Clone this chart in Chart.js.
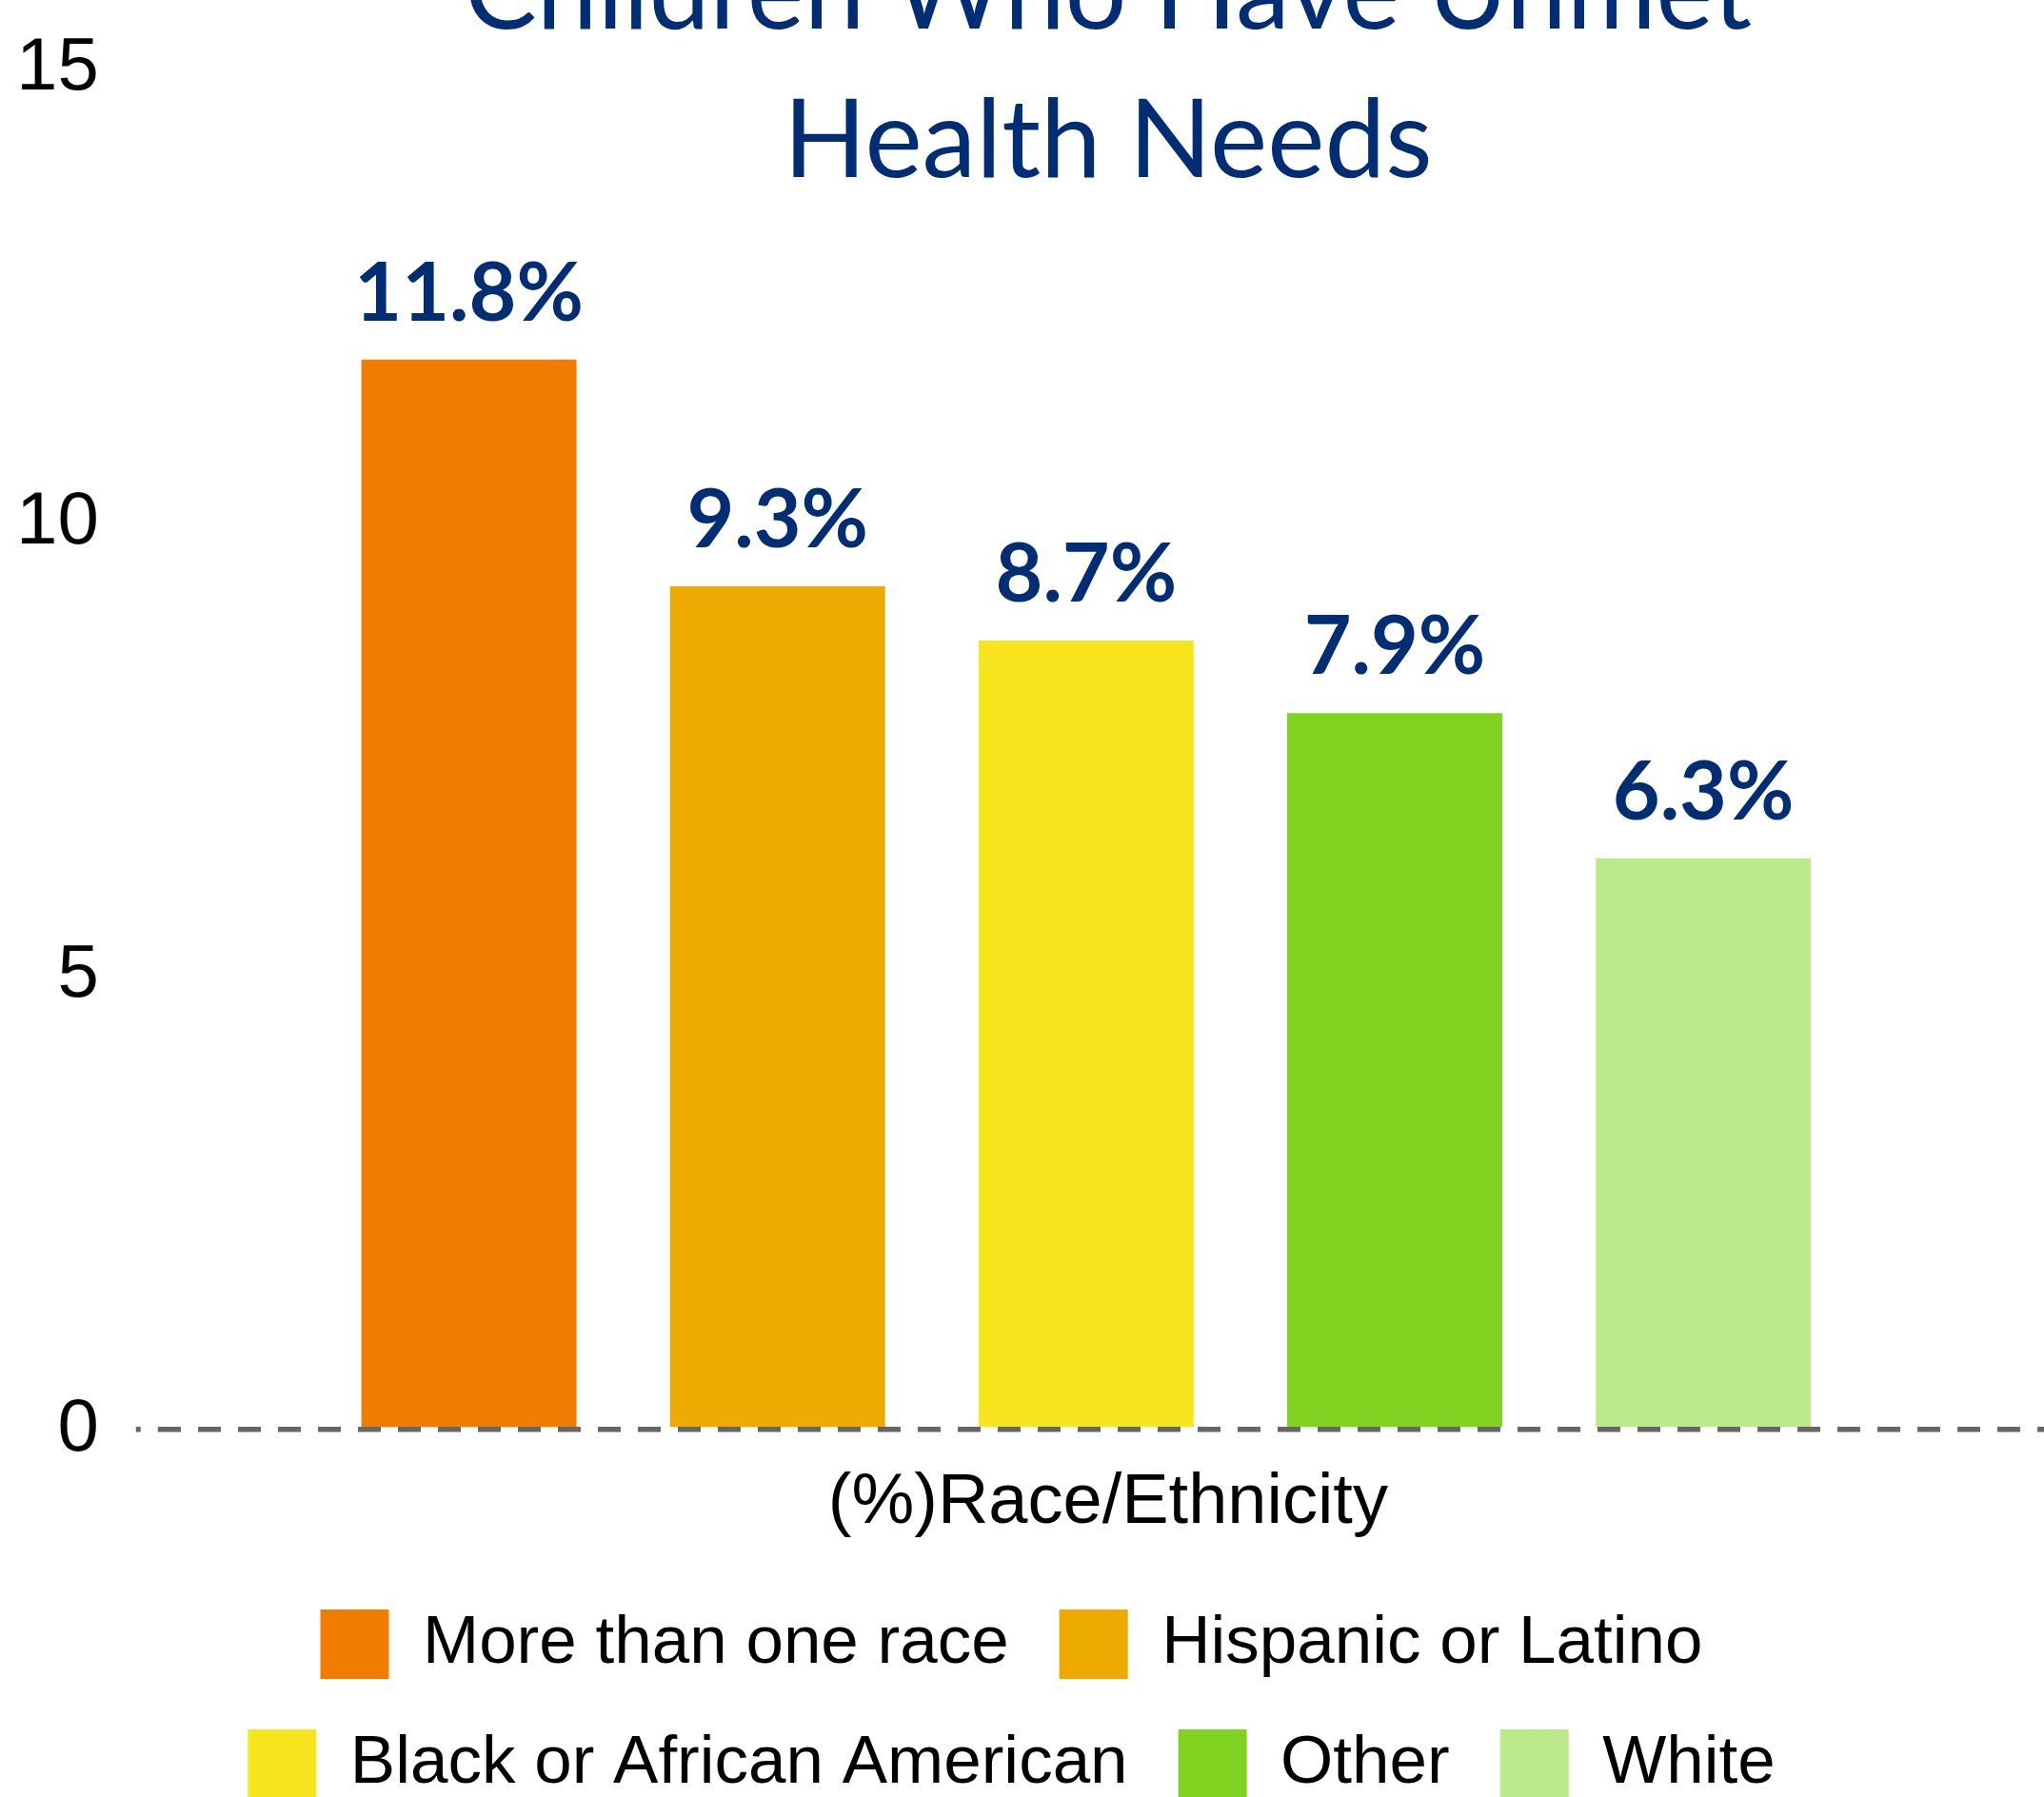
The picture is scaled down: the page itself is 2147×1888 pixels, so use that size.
<!DOCTYPE html>
<html>
<head>
<meta charset="utf-8">
<script src="https://cdn.jsdelivr.net/npm/chart.js@4/dist/chart.umd.min.js"></script>
<style>
  html, body { margin: 0; padding: 0; overflow: hidden; background: #fff; }
  body { width: 2147px; height: 1888px; position: relative; }
  /* chart is a bit bigger than the window: title top and legend bottom are cut */
  #chart { position: absolute; left: -22px; top: -100px; width: 2169px; height: 2000px; }
</style>
</head>
<body>
<canvas id="chart" width="2169" height="2000"></canvas>
<script>
const titleLines = ['Children Who Have Unmet', 'Health Needs'];
const axisTitle = '(%)Race/Ethnicity';
const categories = ['More than one race', 'Hispanic or Latino', 'Black or African American', 'Other', 'White'];
const values = [11.8, 9.3, 8.7, 7.9, 6.3];
const colors = ['#f07d00', '#eeaa00', '#f7e51e', '#80d320', '#bce98a'];
const yTicks = [0, 5, 10, 15];

const navy = '#002d74';

// value labels on top of each bar
const barLabels = {
    id: 'barLabels',
    afterDatasetsDraw(chart) {
        const ctx = chart.ctx;
        const meta = chart.getDatasetMeta(0);
        ctx.save();
        ctx.font = 'bold 86px Lato';
        ctx.fillStyle = navy;
        ctx.textAlign = 'center';
        ctx.textBaseline = 'alphabetic';
        meta.data.forEach((bar, i) => {
            ctx.fillText(values[i].toFixed(1) + '%', bar.x, bar.y - 41);
        });
        ctx.restore();
    }
};

const zeroOnly = (c) => c.tick && c.tick.value === 0 ? '#666666' : 'rgba(0,0,0,0)';

new Chart(document.getElementById('chart'), {
    type: 'bar',
    data: {
        datasets: [{
            data: values.map((v, i) => ({ x: i, y: v })),
            backgroundColor: colors,
            borderWidth: 0,
            barPercentage: 0.697,
            categoryPercentage: 1
        }]
    },
    options: {
        responsive: false,
        devicePixelRatio: 1,
        animation: false,
        layout: { padding: 0 },
        plugins: {
            tooltip: { enabled: false },
            title: {
                display: true,
                text: titleLines,
                fullSize: false,
                color: navy,
                font: { family: 'Lato', size: 114, weight: 'normal', lineHeight: 1.368 },
                padding: { top: 15, bottom: -154 }
            },
            legend: {
                position: 'bottom',
                labels: {
                    color: '#000',
                    font: { family: 'Liberation Sans', size: 71 },
                    boxWidth: 72,
                    boxHeight: 73,
                    padding: 53,
                    useBorderRadius: true,
                    borderRadius: 6,
                    generateLabels: () => categories.map((c, i) => ({
                        text: c,
                        fillStyle: colors[i],
                        strokeStyle: colors[i],
                        lineWidth: 0,
                        hidden: false,
                        index: i,
                        datasetIndex: 0
                    }))
                }
            }
        },
        scales: {
            x: {
                type: 'linear',
                offset: false,
                min: -0.962,
                max: 5.104,
                ticks: { display: false, includeBounds: false, stepSize: 1 },
                grid: { display: false, drawTicks: false, offset: false },
                border: { display: false },
                title: {
                    display: true,
                    text: axisTitle,
                    color: '#000',
                    font: { family: 'Liberation Sans', size: 74 },
                    padding: { top: 33.6, bottom: 13.6 }
                }
            },
            y: {
                min: yTicks[0],
                max: yTicks[yTicks.length - 1],
                afterBuildTicks: (s) => { s.ticks = yTicks.map(v => ({ value: v })); },
                ticks: {
                    color: '#000',
                    font: { family: 'Liberation Sans', size: 78 },
                    padding: 39
                },
                grid: {
                    color: zeroOnly,
                    lineWidth: 5.5,
                    tickColor: zeroOnly,
                    tickWidth: 5.5,
                    tickLength: 38,
                    tickBorderDash: [24, 18],
                    tickBorderDashOffset: 19,
                    z: 1
                },
                border: { display: false, dash: [24, 18], dashOffset: 15 }
            }
        }
    },
    plugins: [barLabels]
});
</script>
</body>
</html>
